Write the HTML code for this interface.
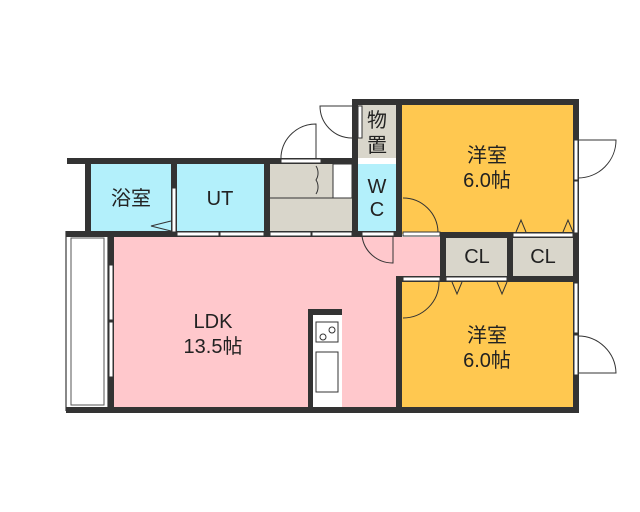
<!DOCTYPE html><html><head><meta charset="utf-8"><style>body{margin:0;background:#fff}svg{display:block}text{font-family:"Liberation Sans","Noto Sans CJK JP",sans-serif;fill:#222}</style></head><body>
<svg width="640" height="512" viewBox="0 0 640 512">
<rect x="113" y="237" width="290" height="172" fill="#ffc8cc"/>
<rect x="396" y="237" width="46" height="42" fill="#ffc8cc"/>
<rect x="90" y="164" width="82" height="68" fill="#b3f0fb"/>
<rect x="176" y="164" width="89" height="68" fill="#b3f0fb"/>
<rect x="357" y="164" width="40" height="68" fill="#b3f0fb"/>
<rect x="269" y="164" width="84" height="67" fill="#d9d6cb"/>
<line x1="269" y1="198" x2="352" y2="198" stroke="#333" stroke-width="1"/>
<rect x="333" y="164" width="19" height="34" fill="#fff" stroke="#333"/>
<rect x="357" y="104" width="40" height="54" fill="#d9d6cb"/>
<rect x="402" y="104" width="172" height="130" fill="#ffc850"/>
<rect x="402" y="281" width="172" height="128" fill="#ffc850"/>
<rect x="446" y="238" width="61" height="39" fill="#d9d6cb"/>
<rect x="513" y="238" width="61" height="39" fill="#d9d6cb"/>
<rect x="66" y="232" width="42" height="178" fill="#fff" stroke="#888" stroke-width="2"/>
<rect x="71" y="238" width="33" height="167" fill="#fff" stroke="#555" stroke-width="1"/>
<g fill="#333">
<rect x="67" y="158" width="290" height="6"/>
<rect x="85" y="158" width="6" height="76"/>
<rect x="171" y="158" width="6" height="76"/>
<rect x="264" y="158" width="6" height="76"/>
<rect x="352" y="100" width="6" height="136"/>
<rect x="396" y="100" width="6" height="137"/>
<rect x="396" y="276" width="6" height="136"/>
<rect x="352" y="99" width="226" height="6"/>
<rect x="573" y="99" width="6" height="313"/>
<rect x="66" y="231" width="336" height="6"/>
<rect x="108" y="231" width="6" height="181"/>
<rect x="66" y="407" width="513" height="6"/>
<rect x="440" y="232" width="139" height="6"/>
<rect x="440" y="232" width="6" height="50"/>
<rect x="507" y="232" width="6" height="50"/>
<rect x="396" y="276" width="183" height="6"/>
<rect x="308" y="309" width="34" height="100"/>
</g>
<rect x="313" y="315" width="29" height="92" fill="#fff"/>
<rect x="316" y="322" width="22" height="20" fill="#fff" stroke="#333"/>
<circle cx="323" cy="337" r="3" fill="none" stroke="#333"/>
<circle cx="332" cy="330" r="3" fill="none" stroke="#333"/>
<rect x="316" y="352" width="22" height="40" fill="#fff" stroke="#333"/>
<g fill="#fff" stroke="#333" stroke-width="1">
<rect x="281" y="159" width="40" height="4"/>
<rect x="177" y="232" width="42" height="4"/><rect x="220" y="232" width="44" height="4"/>
<rect x="270" y="232" width="41" height="4"/><rect x="312" y="232" width="40" height="4"/>
<rect x="362" y="232" width="32" height="4"/>
<rect x="172" y="188" width="4" height="44"/>
<rect x="358" y="106" width="4" height="32"/>
<rect x="109" y="265" width="4" height="55"/><rect x="109" y="322" width="4" height="55"/>
<rect x="403" y="232" width="37" height="4"/>
<rect x="403" y="277" width="37" height="4"/><rect x="446" y="277" width="61" height="4"/>
<rect x="513" y="233" width="60" height="4"/>
<rect x="574" y="140" width="4" height="40"/><rect x="574" y="181" width="4" height="52"/>
<rect x="574" y="283" width="4" height="50"/><rect x="574" y="335" width="4" height="40"/>
</g>
<g fill="none" stroke="#333" stroke-width="1">
<path d="M281 159 L281 156 A35 35 0 0 1 316 124 L316 159"/>
<path d="M352 138 A32 32 0 0 1 320 106 L352 106"/>
<path d="M316 166 A13 13 0 0 1 316 180 A13 13 0 0 1 316 194"/>
<path d="M362 236 A31 31 0 0 0 393 263 L393 236"/>
<path d="M403 198 A35 35 0 0 1 438 232"/>
<path d="M403 318 A36 36 0 0 0 439 282"/>
<path d="M578 140 L616 140 A38 38 0 0 1 578 178"/>
<path d="M578 336 A38 38 0 0 1 616 373 L578 373"/>
<path d="M171 221 L151 226 L171 231"/>
<path d="M516 232 L521 220 L526 232 M563 232 L568 220 L573 232"/>
<path d="M452 282 L457 294 L462 282 M497 282 L502 294 L507 282"/>
</g>
<text x="131" y="205" font-size="20" text-anchor="middle">浴室</text>
<text x="220" y="205" font-size="20" text-anchor="middle">UT</text>
<text x="377" y="127" font-size="20" text-anchor="middle">物</text>
<text x="377" y="152" font-size="20" text-anchor="middle">置</text>
<text x="377" y="193" font-size="20" text-anchor="middle">W</text>
<text x="377" y="216" font-size="20" text-anchor="middle">C</text>
<text x="487" y="162" font-size="20" text-anchor="middle">洋室</text>
<text x="487" y="187" font-size="20" text-anchor="middle">6.0帖</text>
<text x="477" y="263" font-size="20" text-anchor="middle">CL</text>
<text x="543" y="263" font-size="20" text-anchor="middle">CL</text>
<text x="487" y="342" font-size="20" text-anchor="middle">洋室</text>
<text x="487" y="367" font-size="20" text-anchor="middle">6.0帖</text>
<text x="213" y="328" font-size="20" text-anchor="middle">LDK</text>
<text x="213" y="353" font-size="20" text-anchor="middle">13.5帖</text>
</svg></body></html>
